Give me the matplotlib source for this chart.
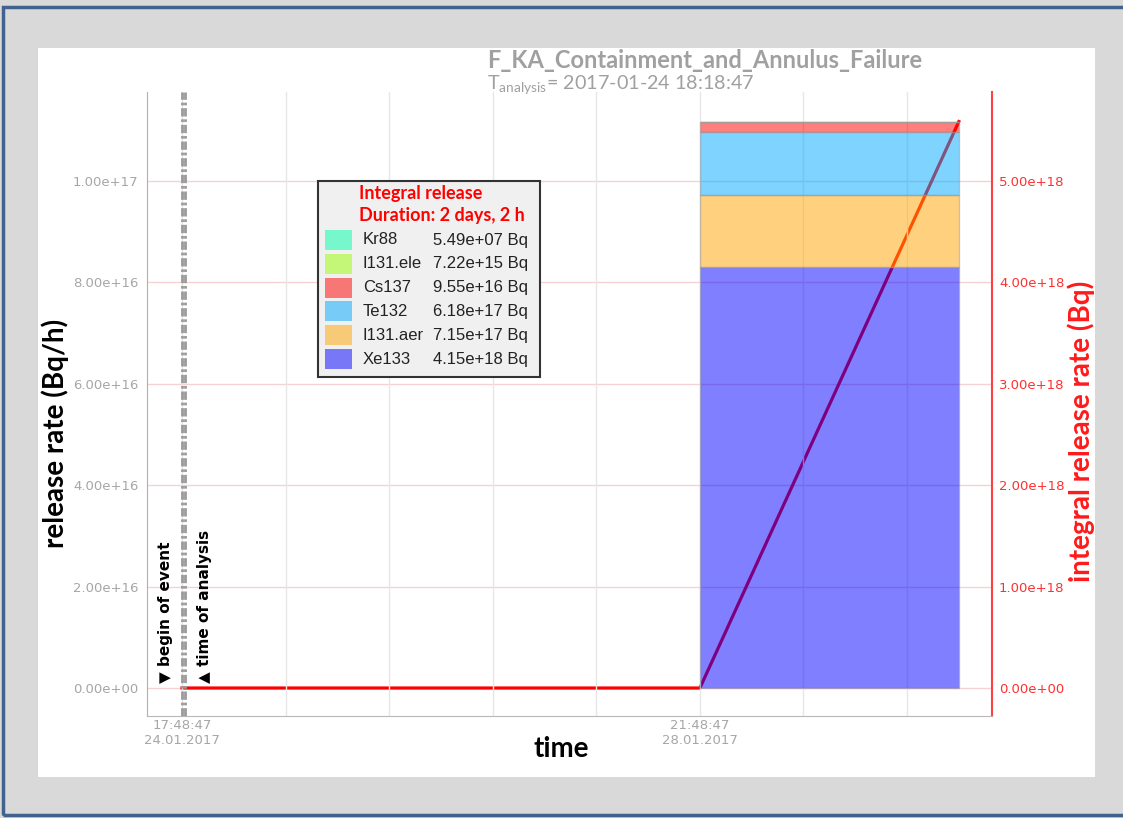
import matplotlib
matplotlib.use('Agg')
import matplotlib.pyplot as plt
from matplotlib.patches import Rectangle

W, H = 1123, 818

# nuclides, bottom of stack first
nuclides = ['Xe133', 'I131.aer', 'Te132', 'Cs137', 'I131.ele', 'Kr88']
integral_bq = [4.15e18, 7.15e17, 6.18e17, 9.55e16, 7.22e15, 5.49e7]
colors = ['#0000ff', '#ffa500', '#00a8ff', '#ff0000', '#99ff00', '#00ffaa']

release_start_h = 100
release_duration_h = 50

# integral release curve (right axis)
cum_time_h = [0, 100, 150]
cum_release = [0, 0, 5.586e18]

event_time_h = 0
analysis_time_h = 0.5

tick_hours = [0, 20, 40, 60, 80, 100, 120, 140]
tick_labels = ['17:48:47\n24.01.2017', '', '', '', '', '21:48:47\n28.01.2017', '', '']
left_ticks = [0, 2e16, 4e16, 6e16, 8e16, 1e17]
right_ticks = [0, 1e18, 2e18, 3e18, 4e18, 5e18]


def fx(x):
    return x / W


def fy(y):
    return 1 - y / H


fig = plt.figure(figsize=(W / 100, H / 100), dpi=100, facecolor='#d9d9d9')
fig.patches.append(Rectangle((fx(38), fy(777)), fx(1095) - fx(38), fy(48) - fy(777),
                             transform=fig.transFigure, facecolor='white', edgecolor='none', zorder=-2))
fig.patches.append(Rectangle((fx(3), fy(815)), fx(1140) - fx(3), fy(7) - fy(815),
                             transform=fig.transFigure, fill=False, edgecolor='#41618f', lw=2.5, zorder=-1))

ax = fig.add_axes([fx(147), fy(716), fx(992) - fx(147), fy(92) - fy(716)])
ax2 = ax.twinx()
ax2.set_zorder(0.5)
ax.set_zorder(1)
ax.patch.set_visible(False)
ax2.patch.set_visible(False)

# stacked release rate bar
rates = [v / release_duration_h for v in integral_bq]
bottom = 0
for name, r, c in zip(nuclides, rates, colors):
    ax.bar(release_start_h, r, width=release_duration_h, bottom=bottom, align='edge',
           color=c, alpha=0.5, edgecolor='#999999', linewidth=1)
    bottom += r

# integral release line
ax2.plot(cum_time_h, cum_release, color='red', lw=2.3)

# event / analysis markers
for t in [event_time_h, analysis_time_h]:
    ax.axvline(t, color='#9a9a9a', lw=2, ls=(0, (3, 1, 1, 1)), zorder=3)
ax.annotate('▼ begin of event', xy=(event_time_h, 0), xytext=(-12, 3.5), textcoords='offset points',
            rotation=90, ha='center', va='bottom', fontsize=11, fontweight='bold', color='black')
ax.annotate('▲ time of analysis', xy=(analysis_time_h, 0), xytext=(14.5, 3.5), textcoords='offset points',
            rotation=90, ha='center', va='bottom', fontsize=11, fontweight='bold', color='black')

# axes limits / ticks
ax.set_xlim(-6.76, 156.4)
ax.set_ylim(-5.52e15, 1.1755e17)
ax2.set_ylim(-5.52e15 * 50, 1.1755e17 * 50)

ax.set_xticks(tick_hours)
ax.set_xticklabels(tick_labels)
ax.set_yticks(left_ticks)
ax.set_yticklabels([f'{v:.2e}' for v in left_ticks])
ax2.set_yticks(right_ticks)
ax2.set_yticklabels([f'{v:.2e}' for v in right_ticks])

ax.tick_params(axis='x', length=0, pad=2, labelsize=9.5, labelcolor='#a6a6a6')
ax.tick_params(axis='y', length=0, pad=6, labelsize=9.5, labelcolor='#a6a6a6')
ax2.tick_params(axis='y', length=0, pad=5, labelsize=9.5, labelcolor='#ff3030')

ax.grid(axis='x', color='#e6e6e6', lw=1)
ax.grid(axis='y', visible=False)
ax2.grid(axis='y', color='#f7d2d2', lw=1)
ax.set_axisbelow(True)

for a in (ax, ax2):
    a.spines['top'].set_visible(False)
ax.spines['right'].set_visible(False)
ax.spines['left'].set_color('#b0b0b0')
ax.spines['bottom'].set_color('#b8b8b8')
ax2.spines['left'].set_visible(False)
ax2.spines['bottom'].set_visible(False)
ax2.spines['right'].set_color('#ff4040')
ax2.spines['right'].set_linewidth(1.5)

# labels and title
fig.text(fx(55), fy(433), 'release rate (Bq/h)', rotation=90, ha='center', va='center',
         fontsize=20, fontweight='bold', family='Lato', color='black')
fig.text(fx(1081), fy(431), 'integral release rate (Bq)', rotation=90, ha='center', va='center',
         fontsize=20, fontweight='bold', family='Lato', color='#ff1a1a')
fig.text(fx(561), fy(749), 'time', ha='center', va='center',
         fontsize=20, fontweight='bold', family='Lato', color='black')
fig.text(fx(487), fy(61), 'F_KA_Containment_and_Annulus_Failure', ha='left', va='center',
         fontsize=17, fontweight='bold', family='Lato', color='#a0a0a0')
plt.rcParams['mathtext.default'] = 'regular'
fig.text(fx(487), fy(85), r'T$_{analysis}$= 2017-01-24 18:18:47', ha='left', va='center',
         fontsize=14.2, family='Lato', color='#a0a0a0')

# legend box
fig.patches.append(Rectangle((fx(318), fy(377)), fx(540) - fx(318), fy(181) - fy(377),
                             transform=fig.transFigure, facecolor='#f0f0f0', edgecolor='#333333',
                             lw=1.5, zorder=5))
fig.text(fx(359), fy(193), 'Integral release', ha='left', va='center', fontsize=13,
         fontweight='bold', family='Lato', color='red', zorder=6)
fig.text(fx(359), fy(216), 'Duration: 2 days, 2 h', ha='left', va='center', fontsize=13,
         fontweight='bold', family='Lato', color='red', zorder=6)
row_y = 240
for name, val, c in zip(nuclides[::-1], integral_bq[::-1], colors[::-1]):
    fig.patches.append(Rectangle((fx(325), fy(row_y + 10)), fx(352) - fx(325), fy(row_y - 10) - fy(row_y + 10),
                                 transform=fig.transFigure, facecolor=c, alpha=0.5,
                                 edgecolor='none', zorder=6))
    fig.text(fx(363), fy(row_y), name, ha='left', va='center', fontsize=12,
             family='Liberation Sans', color='#222222', zorder=6)
    fig.text(fx(433), fy(row_y), f'{val:.2e} Bq', ha='left', va='center', fontsize=12,
             family='Liberation Sans', color='#222222', zorder=6)
    row_y += 23.8

plt.savefig('out.png', dpi=100, facecolor=fig.get_facecolor())
